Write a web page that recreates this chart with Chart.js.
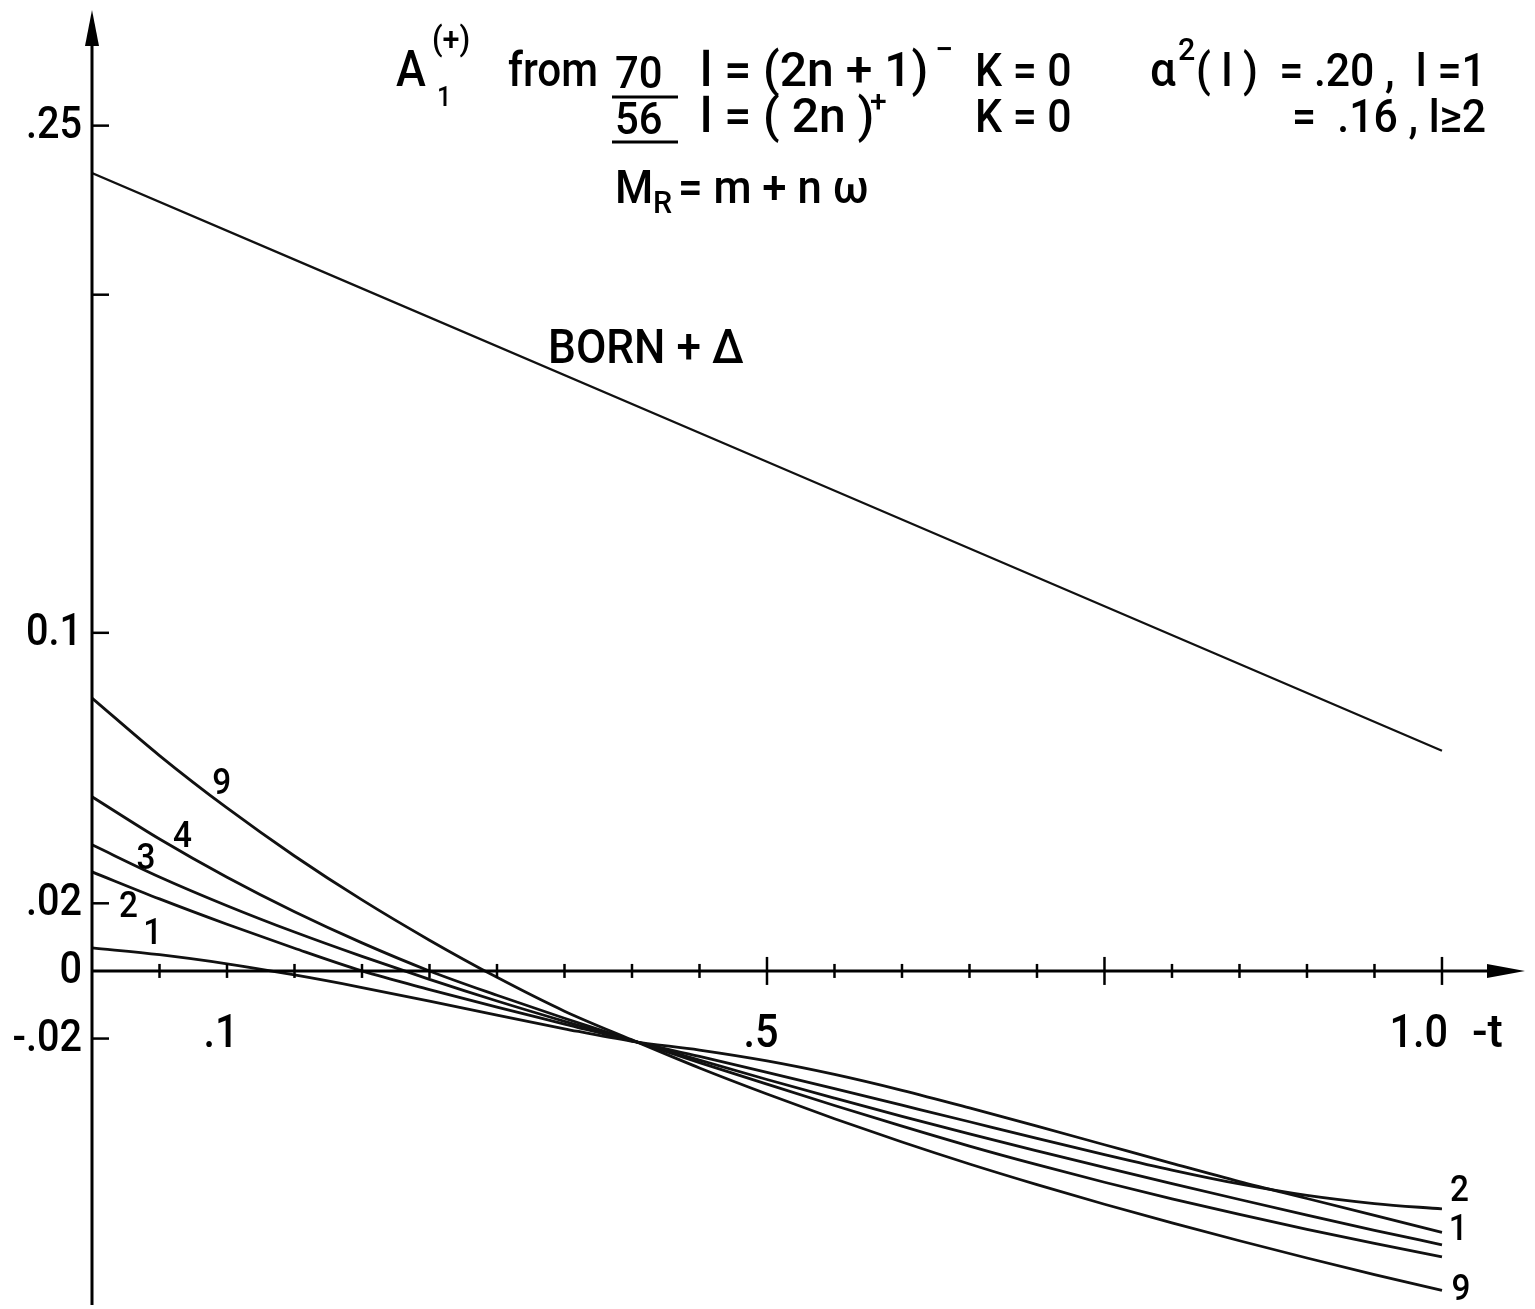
<!DOCTYPE html>
<html>
<head>
<meta charset="utf-8">
<script src="https://cdn.jsdelivr.net/npm/chart.js@4.4.1/dist/chart.umd.min.js"></script>
<style>
  html, body { margin: 0; padding: 0; background: #fff; }
  canvas { display: block; }
</style>
</head>
<body>
<canvas id="myChart" width="1535" height="1309"></canvas>
<script>
// -t values the curves were read at
const tVals = [0, 0.05, 0.1, 0.15, 0.2, 0.25, 0.3, 0.35, 0.4, 0.45, 0.5, 0.55, 0.6, 0.65, 0.7, 0.75, 0.8, 0.85, 0.9, 0.95, 1.0];
// A1(+) for each curve label (1,2,3,4,9)
const curve1 = [0.0068, 0.0048, 0.0021, -0.0012, -0.0049, -0.0089, -0.0131, -0.0171, -0.0208, -0.0234, -0.0266, -0.0306, -0.0353, -0.0405, -0.0459, -0.0514, -0.0569, -0.0623, -0.0673, -0.0723, -0.0773];
const curve2 = [0.0293, 0.0213, 0.0138, 0.0067, 0.0000, -0.0055, -0.0107, -0.0157, -0.0207, -0.0253, -0.0300, -0.0348, -0.0397, -0.0446, -0.0495, -0.0543, -0.0589, -0.0630, -0.0664, -0.0688, -0.0704];
const curve3 = [0.0373, 0.0278, 0.0193, 0.0115, 0.0043, -0.0025, -0.0089, -0.0149, -0.0206, -0.0264, -0.0321, -0.0376, -0.0430, -0.0482, -0.0532, -0.0581, -0.0629, -0.0676, -0.0722, -0.0767, -0.0810];
const curve4 = [0.0515, 0.0390, 0.0277, 0.0175, 0.0083, 0.0000, -0.0072, -0.0140, -0.0205, -0.0271, -0.0335, -0.0398, -0.0459, -0.0518, -0.0573, -0.0625, -0.0674, -0.0720, -0.0764, -0.0806, -0.0846];
const curve9 = [0.0807, 0.0637, 0.0482, 0.0340, 0.0210, 0.0091, -0.0019, -0.0119, -0.0204, -0.0287, -0.0364, -0.0437, -0.0506, -0.0571, -0.0632, -0.0690, -0.0745, -0.0798, -0.0849, -0.0898, -0.0945];
// BORN + delta, straight line
const bornT = [0, 0.5, 1.0];
const bornVals = [0.236, 0.1506, 0.0651];

const yTickVals = [0.25, 0.2, 0.1, 0.02, -0.02];
const yLabelVals = [0.25, 0.1, 0.02, 0, -0.02];
const yLabelText = ['.25', '0.1', '.02', '0', '-.02'];
const xTickVals = [0.05, 0.1, 0.15, 0.2, 0.25, 0.3, 0.35, 0.4, 0.45, 0.5, 0.55, 0.6, 0.65, 0.7, 0.75, 0.8, 0.85, 0.9, 0.95, 1.0];
const xMajorTicks = [0.5, 0.75, 1.0];
const xLabelVals = [0.1, 0.5, 1.0];
const xLabelText = ['.1', '.5', '1.0'];

// curve labels: text, t, value
const curveLabels = [
  ['9', 0.096, 0.055], ['4', 0.067, 0.0393], ['3', 0.040, 0.0328], ['2', 0.027, 0.0186], ['1', 0.045, 0.0106],
  ['2', 1.013, -0.0654], ['1', 1.012, -0.0768], ['9', 1.014, -0.0945]
];

const FONT = 'Roboto, "DejaVu Sans", sans-serif';

function pts(xs, ys) {
  return xs.map((x, i) => ({ x: x, y: ys[i] }));
}

function txt(ctx, str, x, y, size, sx, align, base) {
  ctx.save();
  ctx.font = '500 ' + size + 'px ' + FONT;
  ctx.textAlign = align || 'left';
  ctx.textBaseline = base || 'alphabetic';
  ctx.translate(x, y);
  ctx.scale(sx || 1, 1);
  ctx.fillText(str, 0, 0);
  ctx.restore();
}

const axesPlugin = {
  id: 'axesPlugin',
  afterDatasetsDraw(chart) {
    const ctx = chart.ctx;
    const xs = chart.scales.x, ys = chart.scales.y;
    const x0 = xs.getPixelForValue(0), y0 = ys.getPixelForValue(0);
    const top = chart.chartArea.top, bottom = chart.chartArea.bottom, right = chart.chartArea.right;
    ctx.save();
    ctx.strokeStyle = '#000';
    ctx.fillStyle = '#000';
    ctx.lineWidth = 3;
    // y axis with arrow
    ctx.beginPath();
    ctx.moveTo(x0, bottom);
    ctx.lineTo(x0, top + 20);
    ctx.stroke();
    ctx.beginPath();
    ctx.moveTo(x0, top);
    ctx.lineTo(x0 - 7, top + 36);
    ctx.lineTo(x0 + 7, top + 36);
    ctx.closePath();
    ctx.fill();
    // x axis with arrow
    ctx.beginPath();
    ctx.moveTo(x0, y0);
    ctx.lineTo(right - 20, y0);
    ctx.stroke();
    ctx.beginPath();
    ctx.moveTo(right, y0);
    ctx.lineTo(right - 38, y0 - 7);
    ctx.lineTo(right - 38, y0 + 7);
    ctx.closePath();
    ctx.fill();

    ctx.lineWidth = 2.5;
    xTickVals.forEach(t => {
      const px = xs.getPixelForValue(t);
      const len = xMajorTicks.includes(t) ? 14 : 7;
      ctx.beginPath();
      ctx.moveTo(px, y0 - len);
      ctx.lineTo(px, y0 + len);
      ctx.stroke();
    });
    yTickVals.forEach(v => {
      const py = ys.getPixelForValue(v);
      ctx.beginPath();
      ctx.moveTo(x0, py);
      ctx.lineTo(x0 + 17, py);
      ctx.stroke();
    });

    // tick labels
    yLabelVals.forEach((v, i) => {
      txt(ctx, yLabelText[i], x0 - 10, ys.getPixelForValue(v) + 1, 44, 0.9, 'right', 'middle');
    });
    xLabelVals.forEach((t, i) => {
      const px = xs.getPixelForValue(t);
      if (t === 1.0) txt(ctx, xLabelText[i], px + 6, y0 + 76, 46, 0.9, 'right');
      else txt(ctx, xLabelText[i], px - 6, y0 + 76, 46, 0.9, 'center');
    });
    txt(ctx, '-t', xs.getPixelForValue(1.0) + 30, y0 + 76, 46, 1.0, 'left');

    // curve labels
    curveLabels.forEach(l => {
      txt(ctx, l[0], xs.getPixelForValue(l[1]), ys.getPixelForValue(l[2]), 37, 0.9, 'center', 'middle');
    });
    txt(ctx, 'BORN + \u0394', 548, 363, 48, 0.92);

    // header
    txt(ctx, 'A', 396, 86, 50, 0.9);
    txt(ctx, '(+)', 432, 50, 34, 0.9);
    txt(ctx, '1', 437, 106, 28, 0.9);
    txt(ctx, 'from', 508, 86, 48, 0.88);
    txt(ctx, '70', 615, 88, 44, 0.95);
    txt(ctx, '56', 615, 134, 44, 0.95);
    ctx.lineWidth = 3;
    ctx.beginPath();
    ctx.moveTo(612, 97); ctx.lineTo(678, 97);
    ctx.moveTo(612, 142); ctx.lineTo(678, 142);
    ctx.stroke();
    txt(ctx, 'l = (2n + 1)', 700, 86, 48, 1.0);
    txt(ctx, '\u2212', 935, 60, 32, 1);
    txt(ctx, 'l = ( 2n )', 700, 132, 48, 1.0);
    txt(ctx, '+', 870, 111, 30, 1);
    txt(ctx, 'K = 0', 975, 86, 46, 0.93);
    txt(ctx, 'K = 0', 975, 132, 46, 0.93);
    txt(ctx, '\u03b1', 1150, 86, 48, 0.95);
    txt(ctx, '2', 1178, 60, 32, 0.95);
    txt(ctx, '( l )  = .20 ,  l =1', 1196, 86, 46, 0.93);
    txt(ctx, '=  .16 , l\u22652', 1292, 132, 46, 0.93);
    txt(ctx, 'M', 615, 203, 46, 0.95);
    txt(ctx, 'R', 653, 213, 32, 0.95);
    txt(ctx, '= m + n \u03c9', 678, 203, 46, 0.95);
    ctx.restore();
  }
};

const lineStyle = {
  borderColor: '#111',
  borderWidth: 2.8,
  pointRadius: 0,
  fill: false,
  cubicInterpolationMode: 'monotone'
};

const ctx = document.getElementById('myChart').getContext('2d');
const myChart = new Chart(ctx, {
  type: 'line',
  data: {
    datasets: [
      Object.assign({ label: 'BORN + \u0394', data: pts(bornT, bornVals) }, lineStyle, { borderWidth: 2.2 }),
      Object.assign({ label: '1', data: pts(tVals, curve1) }, lineStyle),
      Object.assign({ label: '2', data: pts(tVals, curve2) }, lineStyle),
      Object.assign({ label: '3', data: pts(tVals, curve3) }, lineStyle),
      Object.assign({ label: '4', data: pts(tVals, curve4) }, lineStyle),
      Object.assign({ label: '9', data: pts(tVals, curve9) }, lineStyle)
    ]
  },
  options: {
    responsive: false,
    animation: false,
    devicePixelRatio: 1,
    layout: { padding: { left: 92, right: 10, top: 10, bottom: 4 } },
    scales: {
      x: { type: 'linear', min: 0, max: 1.0615, display: false },
      y: { type: 'linear', min: -0.0988, max: 0.2842, display: false }
    },
    plugins: {
      legend: { display: false },
      tooltip: { enabled: false }
    }
  },
  plugins: [axesPlugin]
});
</script>
</body>
</html>
